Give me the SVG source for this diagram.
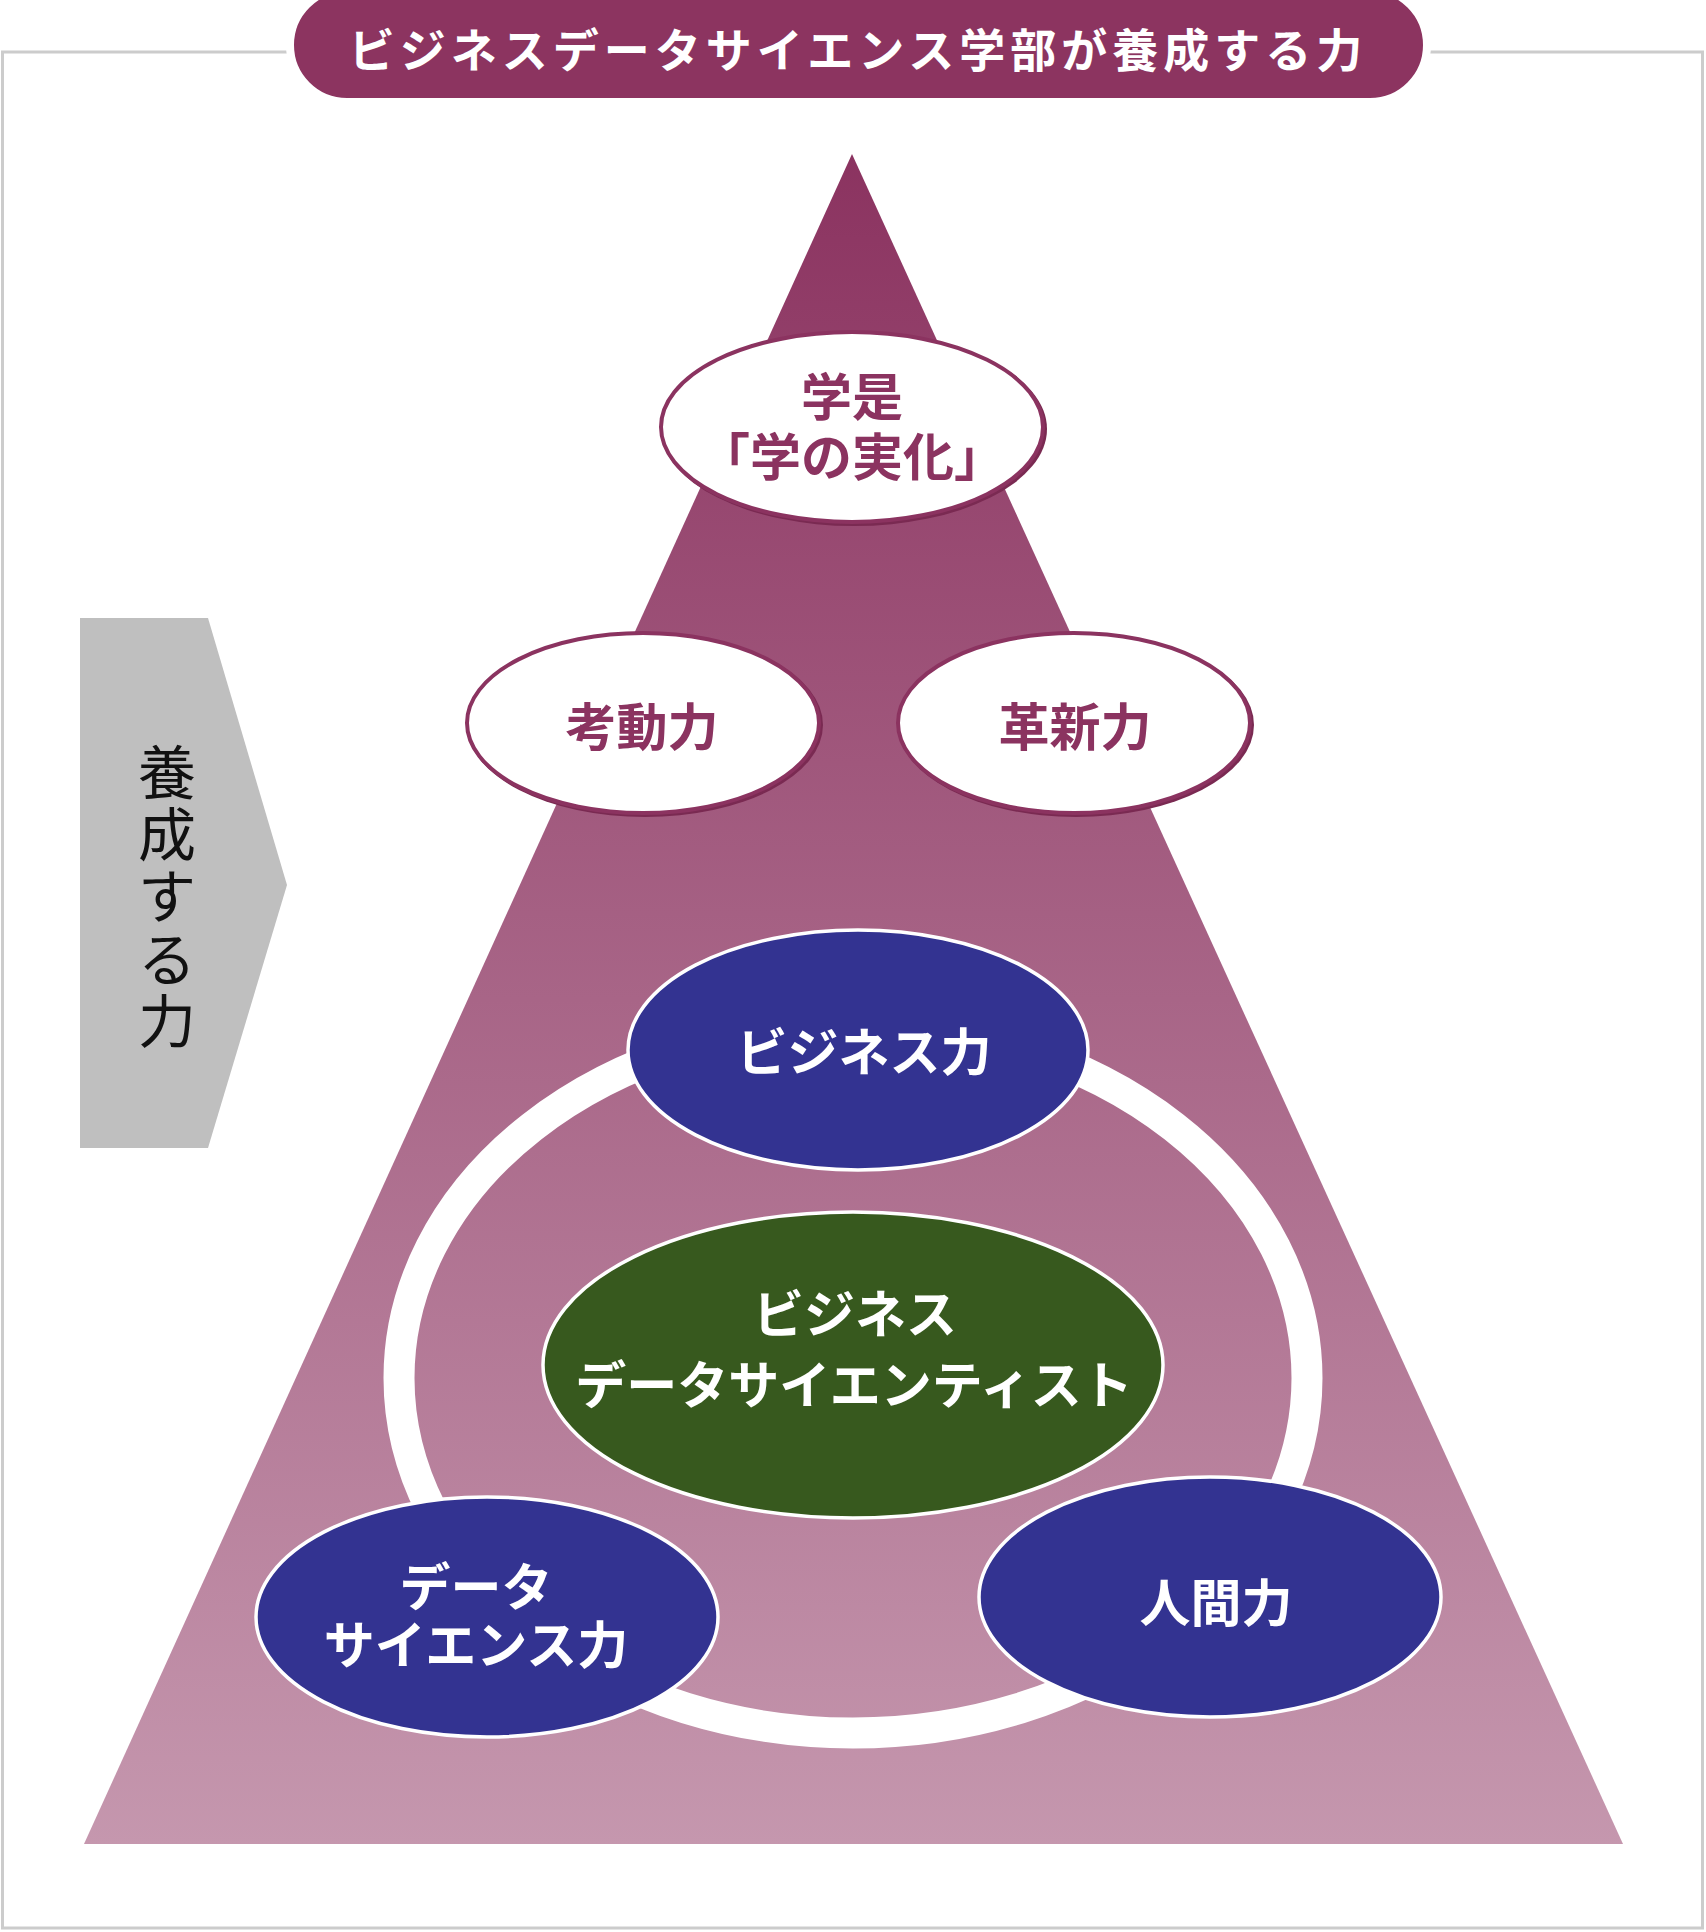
<svg xmlns="http://www.w3.org/2000/svg" width="1706" height="1932" viewBox="0 0 1706 1932">
<style>
.t{font-family:"Liberation Sans","Noto Sans CJK JP",sans-serif;text-anchor:middle}
.b{font-weight:700;font-size:51px}
.w{fill:#ffffff}
.m{fill:#8b3360}
.we{fill:#ffffff;stroke:#8b3360;stroke-width:4}
.sh{fill:#7a2a52}
.be{fill:#333391;stroke:#ffffff;stroke-width:3.5}
</style>
<defs>
<linearGradient id="tri" x1="0" y1="154" x2="0" y2="1844" gradientUnits="userSpaceOnUse">
<stop offset="0" stop-color="#8b3360"/>
<stop offset="1" stop-color="#c597ae"/>
</linearGradient>
</defs>
<rect x="0" y="0" width="1706" height="1932" fill="#ffffff"/>
<rect x="2.5" y="52" width="1700" height="1876" fill="none" stroke="#cccccc" stroke-width="3"/>
<g id="title">
<rect x="290" y="-12" width="1137" height="114" rx="57" ry="57" fill="#8c3460" stroke="#ffffff" stroke-width="8"/>
<text class="t w" x="858" y="67" font-size="46" font-weight="700" letter-spacing="5">ビジネスデータサイエンス学部が養成する力</text>
</g>
<g id="side-arrow">
<polygon points="80,618 208,618 287,885 208,1148 80,1148" fill="#bfbfbf"/>
<g class="t" font-size="58" fill="#111111">
<text x="167" y="794">養</text>
<text x="167" y="856">成</text>
<text x="167" y="918">す</text>
<text x="167" y="981">る</text>
<text x="167" y="1043">力</text>
</g>
</g>
<g id="pyramid">
<polygon points="852,154 1623,1844 84,1844" fill="url(#tri)"/>
</g>
<g id="connectors">
<ellipse cx="853" cy="1378" rx="454" ry="355" fill="none" stroke="#ffffff" stroke-width="31"/>
</g>
<g id="node-core">
<ellipse cx="853" cy="1365" rx="310" ry="153" fill="#37591e" stroke="#ffffff" stroke-width="3.5"/>
<text class="t b w" x="855" y="1333">ビジネス</text>
<text class="t b w" x="854" y="1404">データサイエンティスト</text>
</g>
<g id="node-business">
<ellipse class="be" cx="858" cy="1050" rx="230" ry="120"/>
<text class="t b w" x="864" y="1071">ビジネス力</text>
</g>
<g id="node-datascience">
<ellipse class="be" cx="487" cy="1617" rx="231" ry="120"/>
<text class="t b w" x="476" y="1606">データ</text>
<text class="t b w" x="476" y="1664">サイエンス力</text>
</g>
<g id="node-human">
<ellipse class="be" cx="1210" cy="1597" rx="231" ry="120"/>
<text class="t b w" x="1216" y="1622">人間力</text>
</g>
<g id="node-motto">
<ellipse class="sh" cx="854" cy="429" rx="193" ry="97"/>
<ellipse class="we" cx="852" cy="427" rx="191" ry="95"/>
<text class="t b m" x="852" y="416">学是</text>
<text class="t b m" x="852" y="476">「学の実化」</text>
</g>
<g id="node-kodo">
<ellipse class="sh" cx="645" cy="725" rx="178" ry="92"/>
<ellipse class="we" cx="643" cy="723" rx="176" ry="90"/>
<text class="t b m" x="642" y="746">考動力</text>
</g>
<g id="node-kakushin">
<ellipse class="sh" cx="1076" cy="725" rx="178" ry="92"/>
<ellipse class="we" cx="1074" cy="723" rx="176" ry="90"/>
<text class="t b m" x="1075" y="746">革新力</text>
</g>
</svg>
